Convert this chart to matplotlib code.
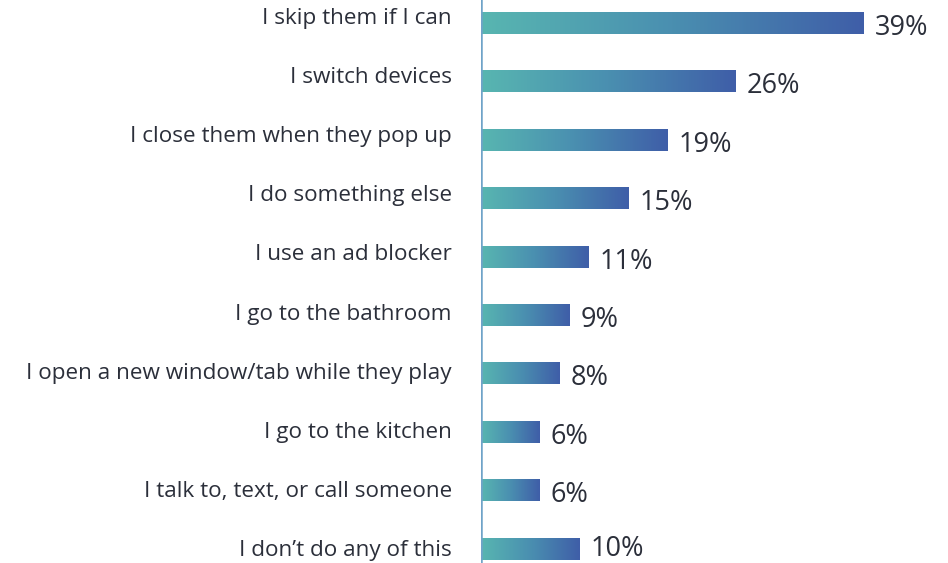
import numpy as np
import matplotlib.pyplot as plt
from matplotlib.colors import LinearSegmentedColormap

# Survey responses: what people do when ads play
labels = [
    "I skip them if I can",
    "I switch devices",
    "I close them when they pop up",
    "I do something else",
    "I use an ad blocker",
    "I go to the bathroom",
    "I open a new window/tab while they play",
    "I go to the kitchen",
    "I talk to, text, or call someone",
    "I don\u2019t do any of this",
]
values = [39, 26, 19, 15, 11, 9, 8, 6, 6, 10]

plt.rcParams['font.family'] = ['Open Sans', 'DejaVu Sans']
text_color = "#2b2f3a"

grad = LinearSegmentedColormap.from_list("ad_grad", ["#58b6b1", "#4a8fb0", "#3f5ea8"])
strip = np.linspace(0, 1, 256).reshape(1, -1)

fig = plt.figure(figsize=(9.48, 5.63), dpi=100)
ax = fig.add_axes([0.5074, 0, 0.4926, 1])

bar_h = 0.36
last = len(values) - 1
for i, (lab, v) in enumerate(zip(labels, values)):
    ax.imshow(strip, cmap=grad, aspect='auto', interpolation='bilinear',
              extent=(0, v, i + bar_h / 2, i - bar_h / 2), zorder=2)
    # keep the bottom value label inside the canvas
    val_dy = -8.3 if i < last else -5.0
    ax.annotate(f"{v}%", (v, i), xytext=(8, val_dy), textcoords='offset points',
                ha='left', va='baseline', fontsize=19.5, color=text_color)
    lab_dy = -(0.5 + 0.72 * i) * 0.72
    ax.annotate(lab, (0, i), xytext=(-21, lab_dy), textcoords='offset points',
                ha='right', va='baseline', fontsize=16.2, color=text_color,
                annotation_clip=False)

ax.set_xlim(0, 47.65)
ax.set_ylim(9.238, -0.402)
ax.axvline(0, color="#6fa3c8", lw=1.8, zorder=3)
for s in ax.spines.values():
    s.set_visible(False)
ax.set_xticks([])
ax.set_yticks([])

fig.savefig("out.png", dpi=100)
